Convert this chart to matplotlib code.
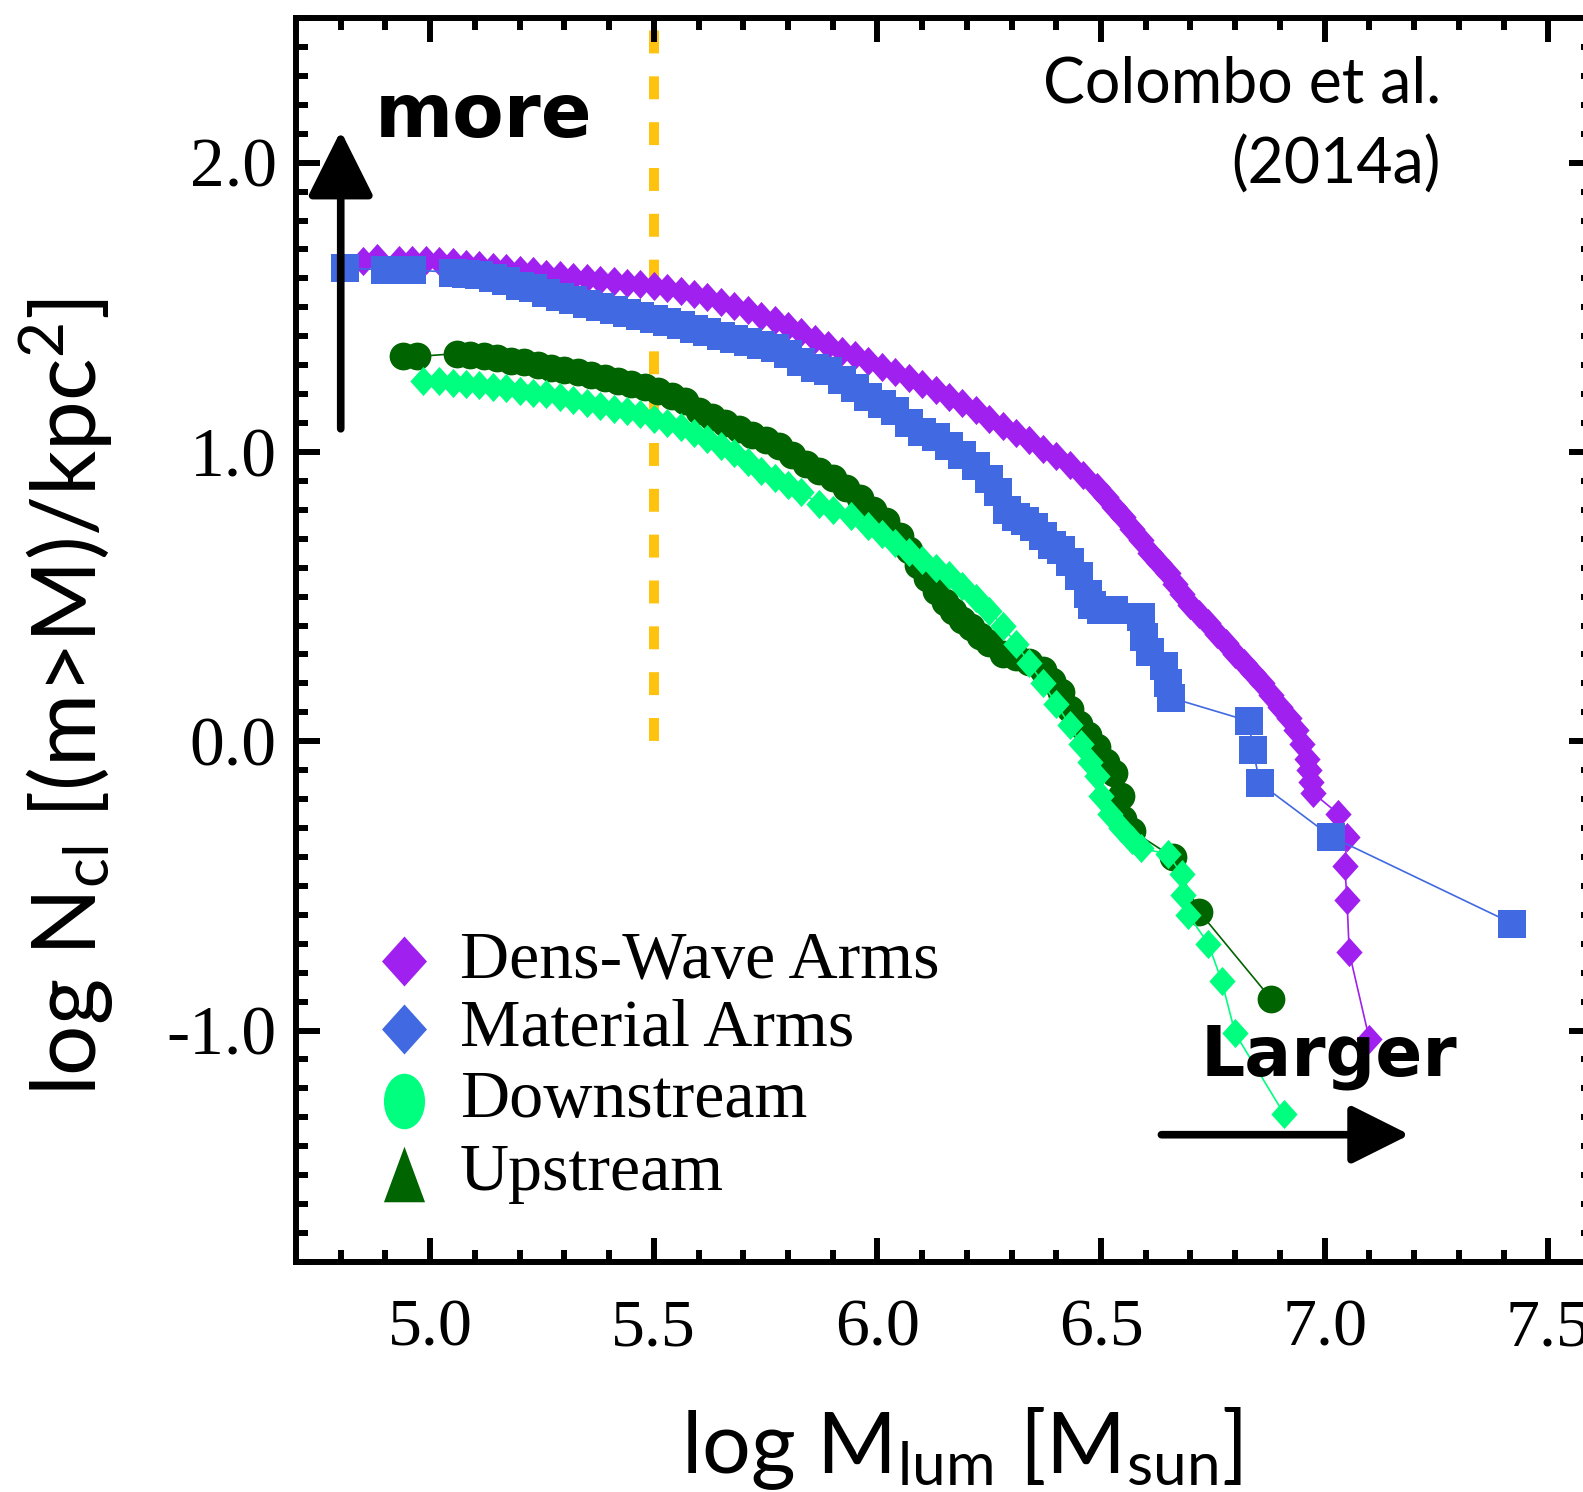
import matplotlib
matplotlib.use("Agg")
import matplotlib.pyplot as plt
from matplotlib.path import Path
from matplotlib.ticker import MultipleLocator, FixedLocator, FixedFormatter
import numpy as np

plt.rcParams['lines.scale_dashes'] = False
plt.rcParams['mathtext.fontset'] = 'custom'
plt.rcParams['mathtext.rm'] = 'Lato'
plt.rcParams['mathtext.it'] = 'Lato:italic'
plt.rcParams['mathtext.bf'] = 'Lato:bold'

# ---- cumulative cloud mass distributions (log M, log N_cl) ----
dens_wave_x = [4.85, 4.88, 4.93, 4.96, 4.99, 5.02, 5.05, 5.08, 5.11, 5.14, 5.17, 5.20, 5.23, 5.26, 5.29,
               5.32, 5.35, 5.38, 5.41, 5.44, 5.47, 5.50, 5.53, 5.56, 5.59, 5.62, 5.65, 5.68, 5.71, 5.74,
               5.77, 5.80, 5.83, 5.86, 5.89, 5.92, 5.95, 5.98, 6.01, 6.04, 6.07, 6.10, 6.13, 6.16, 6.19,
               6.22, 6.25, 6.28, 6.31, 6.34, 6.37, 6.40, 6.43, 6.46, 6.49, 6.51, 6.53, 6.55, 6.57, 6.59,
               6.61, 6.63, 6.65, 6.665, 6.68, 6.70, 6.72, 6.74, 6.76, 6.78, 6.80, 6.82, 6.84, 6.86, 6.88,
               6.90, 6.92, 6.935, 6.95, 6.96, 6.965, 6.97, 6.975, 7.03, 7.05, 7.045, 7.05, 7.055, 7.10]
dens_wave_y = [1.66, 1.67, 1.665, 1.665, 1.665, 1.66, 1.655, 1.65, 1.645, 1.64, 1.635, 1.63, 1.625, 1.615, 1.61,
               1.605, 1.60, 1.595, 1.59, 1.585, 1.58, 1.575, 1.565, 1.555, 1.545, 1.535, 1.52, 1.505, 1.49, 1.47,
               1.455, 1.435, 1.415, 1.39, 1.37, 1.35, 1.335, 1.315, 1.295, 1.275, 1.255, 1.235, 1.215, 1.19, 1.17,
               1.145, 1.115, 1.09, 1.065, 1.04, 1.01, 0.985, 0.955, 0.92, 0.88, 0.845, 0.81, 0.775, 0.735, 0.695,
               0.65, 0.615, 0.58, 0.545, 0.51, 0.47, 0.44, 0.41, 0.37, 0.34, 0.30, 0.27, 0.235, 0.20, 0.16,
               0.12, 0.08, 0.04, -0.01, -0.06, -0.10, -0.14, -0.18, -0.25, -0.33, -0.43, -0.55, -0.73, -1.03]

material_x = [4.81, 4.90, 4.93, 4.96, 5.05, 5.08, 5.11, 5.14, 5.17, 5.20, 5.23, 5.26, 5.29, 5.32, 5.35,
              5.38, 5.41, 5.44, 5.47, 5.50, 5.53, 5.56, 5.59, 5.62, 5.65, 5.68, 5.71, 5.74, 5.77, 5.80,
              5.83, 5.86, 5.89, 5.92, 5.95, 5.98, 6.01, 6.04, 6.07, 6.10, 6.13, 6.16, 6.19, 6.22, 6.25,
              6.27, 6.29, 6.31, 6.33, 6.35, 6.37, 6.39, 6.41, 6.43, 6.45, 6.47, 6.48, 6.50, 6.53, 6.59,
              6.597, 6.61, 6.64, 6.65, 6.657, 6.83, 6.84, 6.855, 7.015, 7.42]
material_y = [1.635, 1.63, 1.63, 1.63, 1.62, 1.615, 1.61, 1.60, 1.59, 1.575, 1.565, 1.55, 1.535, 1.525, 1.51,
              1.50, 1.49, 1.48, 1.47, 1.46, 1.45, 1.44, 1.425, 1.415, 1.40, 1.39, 1.38, 1.37, 1.36, 1.34,
              1.31, 1.29, 1.28, 1.25, 1.22, 1.19, 1.165, 1.14, 1.10, 1.07, 1.05, 1.02, 0.99, 0.95, 0.905,
              0.86, 0.80, 0.775, 0.76, 0.74, 0.71, 0.68, 0.66, 0.62, 0.57, 0.51, 0.47, 0.455, 0.455, 0.43,
              0.36, 0.31, 0.26, 0.20, 0.15, 0.07, -0.03, -0.145, -0.33, -0.63]

upstream_x = [4.94, 4.97, 5.06, 5.09, 5.12, 5.15, 5.18, 5.21, 5.24, 5.27, 5.30, 5.33, 5.36, 5.39, 5.42,
              5.45, 5.48, 5.51, 5.54, 5.57, 5.60, 5.63, 5.66, 5.69, 5.72, 5.75, 5.78, 5.81, 5.84, 5.87,
              5.90, 5.93, 5.96, 5.99, 6.02, 6.05, 6.07, 6.09, 6.11, 6.13, 6.15, 6.17, 6.19, 6.21, 6.23,
              6.25, 6.28, 6.31, 6.34, 6.37, 6.39, 6.41, 6.43, 6.45, 6.47, 6.49, 6.51, 6.53, 6.545, 6.55,
              6.57, 6.66, 6.72, 6.88]
upstream_y = [1.33, 1.33, 1.34, 1.335, 1.33, 1.325, 1.315, 1.31, 1.30, 1.29, 1.285, 1.275, 1.265, 1.255, 1.245,
              1.235, 1.225, 1.21, 1.195, 1.175, 1.14, 1.12, 1.10, 1.08, 1.06, 1.04, 1.02, 0.99, 0.96, 0.935,
              0.91, 0.875, 0.84, 0.80, 0.76, 0.71, 0.66, 0.61, 0.565, 0.52, 0.48, 0.45, 0.42, 0.395, 0.365,
              0.34, 0.30, 0.29, 0.275, 0.245, 0.21, 0.17, 0.11, 0.06, 0.02, -0.02, -0.07, -0.11, -0.19, -0.27,
              -0.31, -0.40, -0.59, -0.89]

downstream_x = [4.985, 5.02, 5.05, 5.08, 5.11, 5.14, 5.17, 5.20, 5.23, 5.26, 5.29, 5.32, 5.35, 5.38, 5.41,
                5.44, 5.47, 5.50, 5.53, 5.56, 5.59, 5.62, 5.65, 5.68, 5.71, 5.74, 5.77, 5.80, 5.83, 5.87,
                5.90, 5.94, 5.98, 6.01, 6.04, 6.07, 6.10, 6.13, 6.16, 6.19, 6.22, 6.25, 6.28, 6.31, 6.34,
                6.37, 6.40, 6.43, 6.455, 6.475, 6.49, 6.50, 6.52, 6.545, 6.57, 6.59, 6.65, 6.68, 6.683,
                6.695, 6.74, 6.77, 6.80, 6.91]
downstream_y = [1.245, 1.245, 1.24, 1.235, 1.23, 1.225, 1.22, 1.21, 1.205, 1.20, 1.19, 1.18, 1.17, 1.16, 1.15,
                1.14, 1.13, 1.115, 1.10, 1.085, 1.065, 1.045, 1.02, 0.995, 0.965, 0.935, 0.91, 0.885, 0.86, 0.82,
                0.80, 0.78, 0.745, 0.715, 0.685, 0.655, 0.625, 0.60, 0.575, 0.535, 0.495, 0.45, 0.40, 0.335, 0.27,
                0.20, 0.13, 0.055, -0.01, -0.07, -0.12, -0.19, -0.25, -0.30, -0.34, -0.37, -0.39, -0.46, -0.53,
                -0.60, -0.70, -0.83, -1.01, -1.29]

x_ticks = [5.0, 5.5, 6.0, 6.5, 7.0, 7.5]
x_tick_labels = ['5.0', '5.5', '6.0', '6.5', '7.0', '7.5']
y_ticks = [-1.0, 0.0, 1.0, 2.0]
y_tick_labels = ['-1.0', '0.0', '1.0', '2.0']

legend_labels = ['Dens-Wave Arms', 'Material Arms', 'Downstream', 'Upstream']

PURPLE = '#A020F0'
BLUE = '#4169E1'
SPRING = '#00FF7F'
DKGREEN = '#006400'
GOLD = '#FFC20E'

# marker shapes
diamond = Path([(0, 1), (0.9, 0), (0, -1), (-0.9, 0), (0, 1)],
               [Path.MOVETO, Path.LINETO, Path.LINETO, Path.LINETO, Path.CLOSEPOLY])
_uc = Path.unit_circle()
tall_circle = Path(_uc.vertices * np.array([0.74, 1.0]), _uc.codes)
tall_triangle = Path([(-0.74, -1), (0.74, -1), (0, 1), (-0.74, -1)],
                     [Path.MOVETO, Path.LINETO, Path.LINETO, Path.CLOSEPOLY])

W, H = 1583, 1492
fig = plt.figure(figsize=(W / 100, H / 100), dpi=100)
ax_l, ax_r, ax_t, ax_b = 296, 1593, 18, 1262
ax = fig.add_axes([ax_l / W, 1 - ax_b / H, (ax_r - ax_l) / W, (ax_b - ax_t) / H])
ax.set_xlim(4.7, 7.6)
ax.set_ylim(-1.8, 2.5)

# threshold line
ax.plot([5.5, 5.5], [2.5, -0.04], color=GOLD, lw=7.2, linestyle=(24.0, (16.5, 16.5)),
        dash_capstyle='butt', zorder=1)

lw_thin = 1.2
ax.plot(dens_wave_x, dens_wave_y, color=PURPLE, lw=lw_thin, marker=diamond, ms=21, mew=0, zorder=2)
ax.plot(material_x, material_y, color=BLUE, lw=lw_thin, marker='s', ms=20, mew=0, zorder=3)
ax.plot(upstream_x, upstream_y, color=DKGREEN, lw=lw_thin, marker='o', ms=20, mew=0, zorder=4)
ax.plot(downstream_x, downstream_y, color=SPRING, lw=lw_thin, marker=diamond, ms=21, mew=0, zorder=5)

# axes frame & ticks
for s in ax.spines.values():
    s.set_linewidth(4.3)
ax.xaxis.set_major_locator(FixedLocator(x_ticks))
ax.xaxis.set_major_formatter(FixedFormatter(x_tick_labels))
ax.yaxis.set_major_locator(FixedLocator(y_ticks))
ax.yaxis.set_major_formatter(FixedFormatter(y_tick_labels))
ax.xaxis.set_minor_locator(MultipleLocator(0.1))
ax.yaxis.set_minor_locator(MultipleLocator(0.1))
ax.tick_params(which='both', direction='in', top=True, right=True, width=4.3, color='black')
ax.tick_params(which='major', length=17)
ax.tick_params(which='minor', length=8.5)
ax.tick_params(axis='x', which='major', pad=26, labelsize=49)
ax.tick_params(axis='y', which='major', pad=14, labelsize=50)
for lab in ax.get_xticklabels() + ax.get_yticklabels():
    lab.set_fontfamily('Liberation Serif')

# legend drawn as marker + label rows
leg_markers = [diamond, diamond, tall_circle, tall_triangle]
leg_sizes = [36, 36, 40, 40]
leg_colors = [PURPLE, BLUE, SPRING, DKGREEN]
leg_rows = [961, 1029, 1101, 1174]
for lab, mk, sz, col, py in zip(legend_labels, leg_markers, leg_sizes, leg_colors, leg_rows):
    ya = (ax_b - py) / (ax_b - ax_t)
    ax.plot([(404 - ax_l) / (ax_r - ax_l)], [ya], marker=mk, ms=sz, mew=0, color=col,
            transform=ax.transAxes, clip_on=False, zorder=6)
    ax.text((460 - ax_l) / (ax_r - ax_l), ya, lab, transform=ax.transAxes, ha='left', va='center',
            fontsize=49, family='Liberation Serif', color='black', zorder=6)

# annotations
ax.text(7.26, 2.13, 'Colombo et al.\n(2014a)', ha='right', va='center', multialignment='right',
        fontsize=45, family='Lato', linespacing=1.45, color='black', zorder=7)

ax.text(4.875, 2.16, 'more', ha='left', va='center', fontsize=54, family='DejaVu Sans',
        fontweight='bold', color='black', zorder=7)
ax.annotate('', xy=(4.80, 2.11), xytext=(4.80, 1.08),
            arrowprops=dict(arrowstyle='-|>,head_length=0.9,head_width=0.45', lw=5.5,
                            color='black', mutation_scale=45, shrinkA=0, shrinkB=0), zorder=7)

ax.text(7.01, -1.09, 'Larger', ha='center', va='center', fontsize=50, family='DejaVu Sans',
        fontweight='bold', color='black', zorder=7)
ax.annotate('', xy=(7.19, -1.36), xytext=(6.635, -1.36),
            arrowprops=dict(arrowstyle='-|>,head_length=0.9,head_width=0.45', lw=5.5,
                            color='black', mutation_scale=40, shrinkA=0, shrinkB=0), zorder=7)

# axis titles
fig.text(962 / W, 1 - 1449 / H, r'log M$_{\mathrm{lum}}$ [M$_{\mathrm{sun}}$]', ha='center', va='center',
         fontsize=62, family='Lato')
fig.text(66 / W, 1 - 697 / H, r'log N$_{\mathrm{cl}}$ [(m>M)/kpc$^{\mathrm{2}}$]', ha='center', va='center',
         rotation=90, fontsize=64, family='Lato')

fig.savefig('out.png', dpi=100, facecolor='white')
